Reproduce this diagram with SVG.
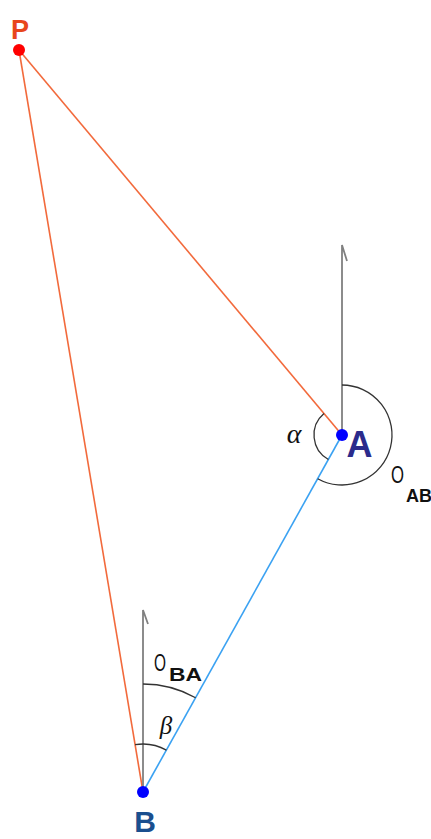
<svg xmlns="http://www.w3.org/2000/svg" width="431" height="839" viewBox="0 0 431 839">
<style>
.red{stroke:#f26a3c;stroke-width:1.6;fill:none}
.blue{stroke:#3ba2f2;stroke-width:1.6;fill:none}
.axis{stroke:#808080;stroke-width:1.8;fill:none}
.arc{stroke:#333;stroke-width:1.3;fill:none}
.dot{fill:#0000ff}
.lbl{font-family:"Liberation Sans",Arial,sans-serif;font-weight:bold}
.sym{font-family:"Liberation Serif","DejaVu Serif",serif;font-style:italic;fill:#111}
.o{font-family:"Liberation Sans",Arial,sans-serif;font-size:23px;fill:#111}
.sub{font-family:"Liberation Sans",Arial,sans-serif;font-weight:bold;font-size:18px;fill:#111}
</style>
<rect width="431" height="839" fill="#fff"/>
<g id="connectors">
<line class="red" x1="19" y1="50" x2="342" y2="435"/>
<line class="red" x1="19" y1="50" x2="143" y2="792"/>
<line class="blue" x1="342" y1="435" x2="143" y2="792"/>
<path class="axis" d="M342,435 V245 L347,261"/>
<path class="axis" d="M143,792 V610 L148,624"/>
</g>
<g id="angles">
<path class="arc" d="M342,385 A50,50 0 1 1 317.7,478.7"/>
<path class="arc" d="M324,413.6 A28,28 0 0 0 328.4,459.5"/>
<path class="arc" d="M143,684 A108,108 0 0 1 195.6,697.7"/>
<path class="arc" d="M135.1,744.7 A48,48 0 0 1 166.4,750.1"/>
<text class="sym" x="294" y="443" font-size="28" text-anchor="middle">α</text>
<text class="sym" x="166" y="734" font-size="25" text-anchor="middle">β</text>
<text class="o" x="391" y="483" textLength="13" lengthAdjust="spacingAndGlyphs">O</text>
<text class="sub" x="406" y="502">AB</text>
<text class="o" x="154" y="671" textLength="12" lengthAdjust="spacingAndGlyphs">O</text>
<text class="sub" x="169" y="681" textLength="33" lengthAdjust="spacingAndGlyphs">BA</text>
</g>
<g id="P">
<circle cx="19" cy="50" r="6" fill="#ff0000"/>
<text class="lbl" x="20" y="39" font-size="27" fill="#e8461c" text-anchor="middle">P</text>
</g>
<g id="A">
<circle class="dot" cx="342" cy="435" r="6"/>
<text class="lbl" x="359.5" y="457" font-size="36" fill="#2b2b8c" text-anchor="middle">A</text>
</g>
<g id="B">
<circle class="dot" cx="143" cy="792" r="6"/>
<text class="lbl" x="145" y="832" font-size="30" fill="#1a4f8f" text-anchor="middle">B</text>
</g>
</svg>
